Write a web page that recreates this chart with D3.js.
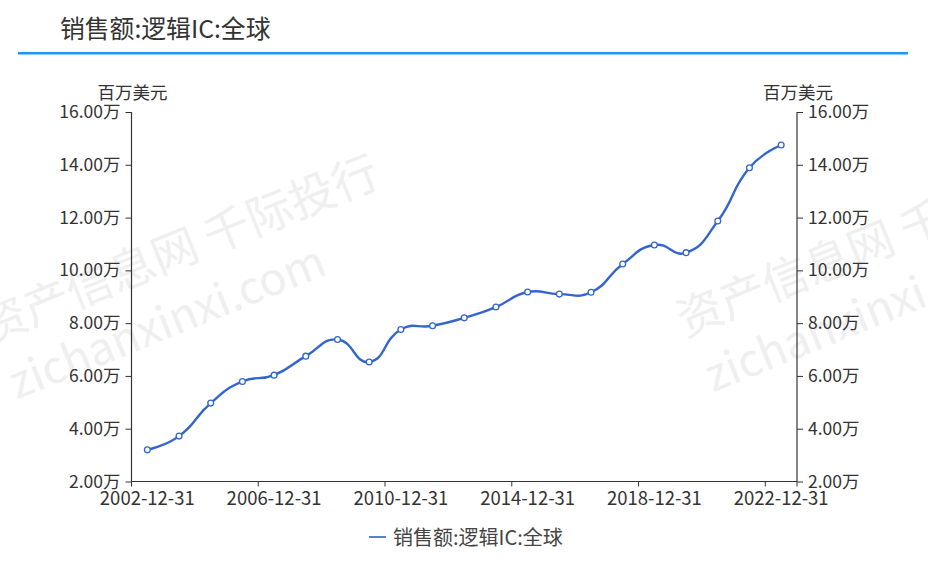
<!DOCTYPE html>
<html><head><meta charset="utf-8">
<script src="https://cdn.jsdelivr.net/npm/d3@7/dist/d3.min.js"></script>
<style>
html,body{margin:0;padding:0;background:#fff;}
svg{display:block;font-family:"Noto Sans CJK SC","Noto Sans",sans-serif;}
</style></head>
<body>
<svg id="chart" width="928" height="568"></svg>
<script>
const titleText = "销售额:逻辑IC:全球";
const seriesName = "销售额:逻辑IC:全球";
const unitLabel = "百万美元";
const categories = ["2002-12-31","2003-12-31","2004-12-31","2005-12-31","2006-12-31","2007-12-31","2008-12-31","2009-12-31","2010-12-31","2011-12-31","2012-12-31","2013-12-31","2014-12-31","2015-12-31","2016-12-31","2017-12-31","2018-12-31","2019-12-31","2020-12-31","2021-12-31","2022-12-31"];
const values = [32000,37200,49700,57900,60300,67500,73800,65300,77600,79000,82000,86100,91800,91000,91700,102400,109600,106700,118700,138900,147500];
const yTicks = [20000,40000,60000,80000,100000,120000,140000,160000];
const watermarkTexts = ["资产信息网 千际投行","zichanxinxi.com"];

const svg = d3.select("#chart");
const plot = {left:131.5, right:797, top:112, bottom:481.5};
const lineColor = "#3366cc";
const axisColor = "#333";
const textColor = "#333";

// watermark
const wm = svg.append("g");
[[-11, 344],[685, 337]].forEach(([x,y])=>{
  const g = wm.append("g").attr("transform",`translate(${x},${y}) rotate(-22)`);
  g.append("text").attr("x",0).attr("y",0).attr("font-size",46).attr("fill","#efefef").text(watermarkTexts[0]);
  g.append("text").attr("x",5).attr("y",62).attr("font-size",45).attr("fill","#efefef").text(watermarkTexts[1]);
});

// title
svg.append("text").attr("x",60).attr("y",38).attr("font-size",24.8).attr("fill",textColor).text(titleText);
svg.append("rect").attr("x",18).attr("y",52).attr("width",890).attr("height",2.5).attr("fill","#2196f3");

const x = d3.scaleBand().domain(categories).range([plot.left, plot.right]).padding(0);
const y = d3.scaleLinear().domain([20000,160000]).range([plot.bottom, plot.top]);
const fmt = v => (v/10000).toFixed(2) + "万";

// y axes
const gL = svg.append("g").attr("transform",`translate(${plot.left},0)`)
  .call(d3.axisLeft(y).tickValues(yTicks).tickFormat(fmt).tickSize(6).tickPadding(5));
const gR = svg.append("g").attr("transform",`translate(${plot.right},0)`)
  .call(d3.axisRight(y).tickValues(yTicks).tickFormat(fmt).tickSize(6).tickPadding(5));
[gL,gR].forEach(g=>{
  g.attr("font-family",null).attr("font-size",null);
  g.select(".domain").attr("stroke",axisColor).attr("stroke-width",1.2).attr("d",`M0,${plot.bottom}V${plot.top}`);
  g.selectAll(".tick line").attr("stroke",axisColor);
  g.selectAll(".tick text").attr("fill",textColor).attr("font-size",17.5);
});

// unit labels
svg.append("text").attr("x",plot.left+36).attr("y",98.5).attr("text-anchor","end").attr("font-size",17.5).attr("fill",textColor).text(unitLabel);
svg.append("text").attr("x",plot.right+36).attr("y",98.5).attr("text-anchor","end").attr("font-size",17.5).attr("fill",textColor).text(unitLabel);

// x axis
const labelIdx = d3.range(0, categories.length, 4);
const gX = svg.append("g").attr("transform",`translate(0,${plot.bottom})`);
gX.append("line").attr("x1",plot.left).attr("x2",plot.right).attr("stroke",axisColor).attr("stroke-width",1.2);
gX.selectAll("line.tk").data(labelIdx).join("line").attr("class","tk")
  .attr("x1",i=>x(categories[i])).attr("x2",i=>x(categories[i])).attr("y1",0).attr("y2",5).attr("stroke",axisColor);
gX.append("line").attr("x1",plot.right).attr("x2",plot.right).attr("y1",0).attr("y2",5).attr("stroke",axisColor);
gX.selectAll("text").data(labelIdx).join("text")
  .attr("x",i=>x(categories[i])+x.bandwidth()/2).attr("y",23).attr("text-anchor","middle")
  .attr("font-size",18.5).attr("fill",textColor).text(i=>categories[i]);

// smooth line (echarts-like bezier)
const pts = categories.map((c,i)=>[x(c)+x.bandwidth()/2, y(values[i])]);
function smoothPath(p, s){
  const path = d3.path();
  path.moveTo(p[0][0], p[0][1]);
  let cp0 = [p[0][0], p[0][1]];
  for(let i=1;i<p.length;i++){
    const [px,py] = p[i-1], [cx,cy] = p[i];
    let ncp, vx=0, vy=0, ratio=0.5;
    if(i===p.length-1){ ncp=[cx,cy]; }
    else{
      const [nx,ny]=p[i+1];
      vx = nx-px; vy = ny-py;
      const l0 = Math.hypot(cx-px,cy-py), l1 = Math.hypot(nx-cx,ny-cy);
      ratio = l1/(l0+l1);
      ncp = [cx - vx*s*(1-ratio), cy - vy*s*(1-ratio)];
    }
    path.bezierCurveTo(cp0[0],cp0[1],ncp[0],ncp[1],cx,cy);
    cp0 = [cx + vx*s*ratio, cy + vy*s*ratio];
  }
  return path.toString();
}
svg.append("path").attr("d",smoothPath(pts,0.5)).attr("fill","none").attr("stroke",lineColor).attr("stroke-width",2.4);
svg.selectAll("circle.pt").data(pts).join("circle").attr("class","pt")
  .attr("cx",d=>d[0]).attr("cy",d=>d[1]).attr("r",2.9).attr("fill","#fff").attr("stroke",lineColor).attr("stroke-width",1.3);

// legend
svg.append("line").attr("x1",369).attr("x2",386).attr("y1",537).attr("y2",537).attr("stroke","#5b7fd1").attr("stroke-width",2);
svg.append("text").attr("x",393).attr("y",544.5).attr("font-size",20).attr("fill","#444").text(seriesName);
</script>
</body></html>
